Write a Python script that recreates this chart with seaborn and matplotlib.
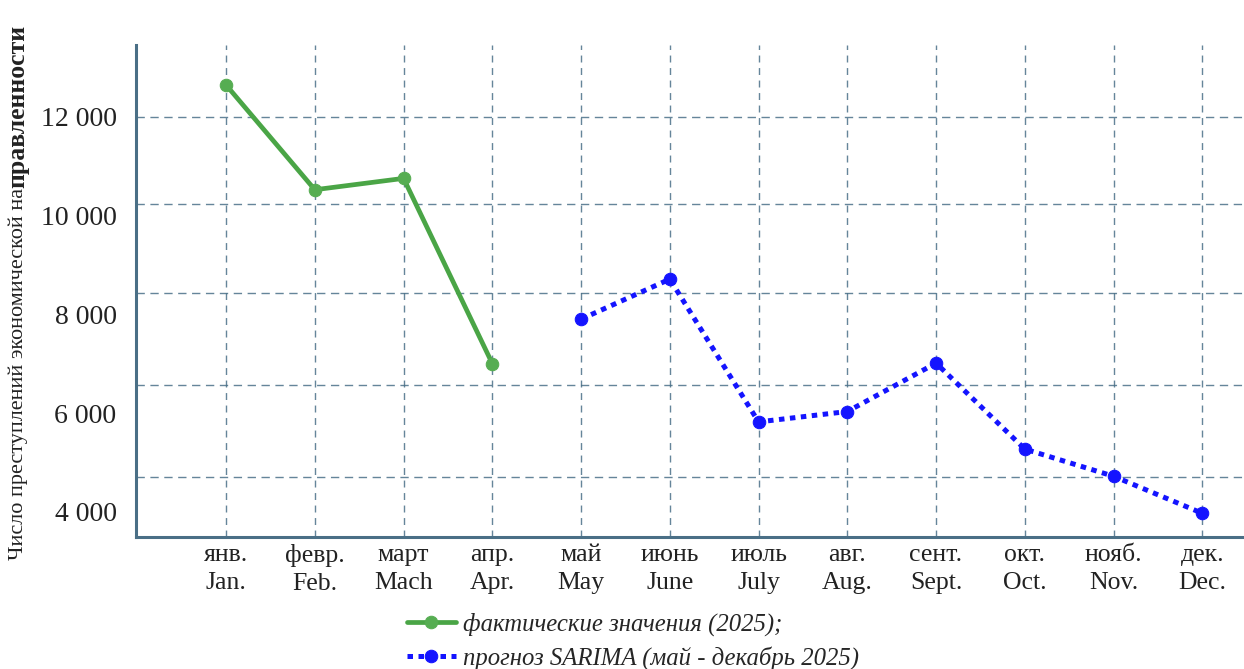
import numpy as np
import pandas as pd
import matplotlib
matplotlib.use("Agg")
import matplotlib.pyplot as plt
import seaborn as sns

# ---- data ----
months_ru = ["янв.", "февр.", "март", "апр.", "май", "июнь", "июль", "авг.", "сент.", "окт.", "нояб.", "дек."]
months_en = ["Jan.", "Feb.", "Mach", "Apr.", "May", "June", "July", "Aug.", "Sept.", "Oct.", "Nov.", "Dec."]
actual_months = ["янв.", "февр.", "март", "апр."]
actual_values = [12640, 10520, 10750, 7000]
forecast_months = ["май", "июнь", "июль", "авг.", "сент.", "окт.", "нояб.", "дек."]
forecast_values = [7900, 8710, 5820, 6030, 7010, 5270, 4720, 3970]
ytick_values = [4000, 6000, 8000, 10000, 12000]
ytick_labels = ["4 000", "6 000", "8 000", "10 000", "12 000"]
grid_values = [12000, 10230, 8420, 6570, 4710]

label_actual = "фактические значения (2025);"
label_forecast = "прогноз SARIMA (май - декабрь 2025)"
ylabel_normal = "Число преступлений экономической на"
ylabel_bold = "правленности"

# ---- style ----
sns.set_theme(style="white")
plt.rcParams["font.family"] = ["Liberation Serif", "DejaVu Serif"]

pos = {m: i for i, m in enumerate(months_ru)}
df_a = pd.DataFrame({"x": [pos[m] for m in actual_months], "y": actual_values})
df_f = pd.DataFrame({"x": [pos[m] for m in forecast_months], "y": forecast_values})

fig = plt.figure(figsize=(12.44, 6.69), dpi=100)
ax = fig.add_axes([136 / 1244, (669 - 537) / 669, 1 - 136 / 1244, (537 - 45) / 669])

grid_c = "#4a7088"
ax.set_xlim(-1.015, 11.47)
ax.set_ylim(3490, 13450)

# grid
ax.set_xticks(range(len(months_ru)))
ax.set_xticklabels([f"{r}\n{e}" for r, e in zip(months_ru, months_en)],
                   fontsize=18.5, color="#222222", linespacing=1.35)
ax.set_yticks(ytick_values)
ax.set_yticklabels(ytick_labels, fontsize=20, color="#222222")
ax.yaxis.set_remove_overlapping_locs(False)
ax.set_yticks(grid_values, minor=True)
ax.grid(False)
ax.xaxis.grid(True, which="major", color=grid_c, linestyle=(0, (5, 4)), linewidth=1.0, alpha=0.85)
ax.yaxis.grid(True, which="minor", color=grid_c, linestyle=(0, (6, 4)), linewidth=1.0, alpha=0.85)
ax.tick_params(axis="both", which="both", length=0)
ax.tick_params(axis="x", pad=5)
ax.tick_params(axis="y", pad=14)

sns.lineplot(data=df_a, x="x", y="y", ax=ax, color="#4aa546", linewidth=3.4,
             marker="o", markersize=9, markerfacecolor="#56ad52", markeredgecolor="#56ad52",
             label=label_actual)
sns.lineplot(data=df_f, x="x", y="y", ax=ax, color="#1414ff", linewidth=3.6,
             linestyle=(0, (1.1, 1.1)), marker="o", markersize=9,
             markerfacecolor="#1414ff", markeredgecolor="#1414ff",
             label=label_forecast)
for ln in ax.get_lines():
    ln.set_dash_capstyle("butt")

ax.set_xlabel("")
ax.set_ylabel("")

for s in ["top", "right"]:
    ax.spines[s].set_visible(False)
for s in ["left", "bottom"]:
    ax.spines[s].set_color("#4a6f86")
    ax.spines[s].set_linewidth(2.2)

leg = ax.legend(loc="center left", bbox_to_anchor=(395 / 1244, 1 - 641 / 669),
                bbox_transform=fig.transFigure, frameon=False,
                prop={"family": ["Liberation Serif", "DejaVu Serif"], "style": "italic", "size": 17.8},
                handlelength=1.95, handletextpad=0.32, labelspacing=0.4, borderpad=0)

# y label in two parts (normal + bold)
t1 = fig.text(18 / 1244, 1 - 560 / 669, ylabel_normal, rotation=90, rotation_mode="anchor",
              ha="left", va="center", fontsize=16, color="#222222")
fig.canvas.draw()
bb = t1.get_window_extent()
t2 = fig.text(18 / 1244, bb.y1 / fig.bbox.height, ylabel_bold, rotation=90, rotation_mode="anchor",
              ha="left", va="center", fontsize=18.5, fontweight="bold", color="#222222")

fig.savefig("out.png", dpi=100)
